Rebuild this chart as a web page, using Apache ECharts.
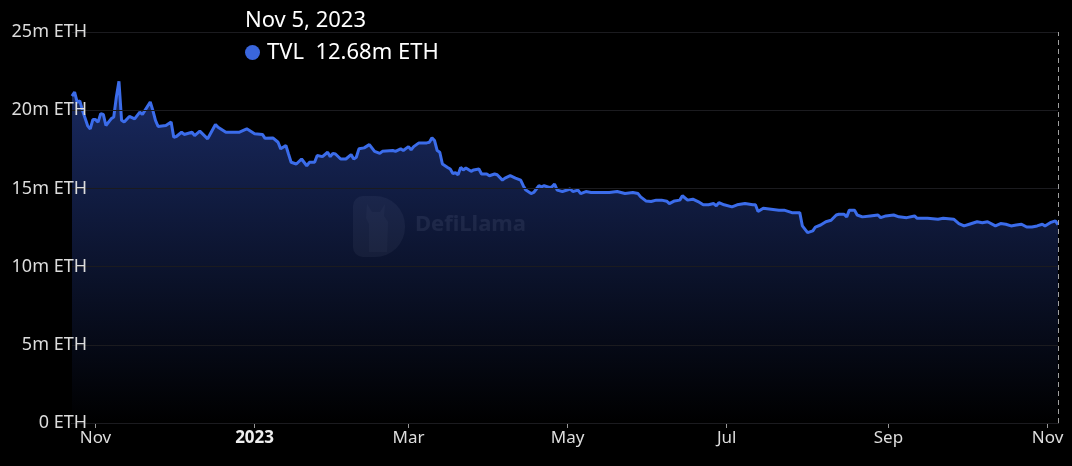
<!DOCTYPE html>
<html>
<head>
<meta charset="utf-8">
<script src="https://cdn.jsdelivr.net/npm/echarts@6/dist/echarts.min.js"></script>
<style>
  html, body { margin: 0; padding: 0; background: #000; }
  #chart { width: 1072px; height: 466px; }
</style>
</head>
<body>
<div id="chart"></div>
<script>
// TVL in millions of ETH
var dates = [
  '2022-10-23','2022-10-24','2022-10-25','2022-10-26','2022-10-27','2022-10-29','2022-10-30','2022-10-31',
  '2022-11-01','2022-11-02','2022-11-03','2022-11-04','2022-11-05','2022-11-07','2022-11-08','2022-11-09',
  '2022-11-10','2022-11-11','2022-11-12','2022-11-14','2022-11-16','2022-11-18','2022-11-19','2022-11-22',
  '2022-11-23','2022-11-24','2022-11-25','2022-11-28','2022-11-30',
  '2022-12-01','2022-12-02','2022-12-04','2022-12-05','2022-12-08','2022-12-09','2022-12-11','2022-12-14',
  '2022-12-17','2022-12-18','2022-12-21','2022-12-26','2022-12-29',
  '2023-01-01','2023-01-04','2023-01-05','2023-01-08','2023-01-10','2023-01-11','2023-01-13','2023-01-14',
  '2023-01-15','2023-01-17','2023-01-19','2023-01-21','2023-01-22','2023-01-24','2023-01-25','2023-01-27',
  '2023-01-29','2023-01-30','2023-01-31',
  '2023-02-01','2023-02-03','2023-02-05','2023-02-07','2023-02-08','2023-02-09','2023-02-10','2023-02-12',
  '2023-02-14','2023-02-16','2023-02-18','2023-02-19','2023-02-23','2023-02-24','2023-02-26','2023-02-27',
  '2023-03-01','2023-03-02','2023-03-03','2023-03-05','2023-03-08','2023-03-09','2023-03-10','2023-03-11',
  '2023-03-12','2023-03-13','2023-03-14','2023-03-16','2023-03-17','2023-03-18','2023-03-19','2023-03-20',
  '2023-03-21','2023-03-22','2023-03-23','2023-03-25','2023-03-26','2023-03-28','2023-03-29','2023-03-31',
  '2023-04-01','2023-04-03','2023-04-04','2023-04-06','2023-04-07','2023-04-09','2023-04-11','2023-04-13',
  '2023-04-14','2023-04-15','2023-04-17','2023-04-18','2023-04-20','2023-04-21','2023-04-22','2023-04-24',
  '2023-04-25','2023-04-26','2023-04-27','2023-04-29',
  '2023-05-02','2023-05-03','2023-05-05','2023-05-06','2023-05-08','2023-05-10','2023-05-13','2023-05-17',
  '2023-05-20','2023-05-23','2023-05-26','2023-05-28','2023-05-29','2023-05-31',
  '2023-06-02','2023-06-04','2023-06-06','2023-06-08','2023-06-09','2023-06-11','2023-06-13','2023-06-14',
  '2023-06-16','2023-06-18','2023-06-20','2023-06-22','2023-06-24','2023-06-26','2023-06-27','2023-06-28',
  '2023-06-30',
  '2023-07-03','2023-07-05','2023-07-08','2023-07-11','2023-07-12','2023-07-13','2023-07-15','2023-07-18',
  '2023-07-21','2023-07-23','2023-07-26','2023-07-29','2023-07-30',
  '2023-08-01','2023-08-03','2023-08-04','2023-08-06','2023-08-08','2023-08-10','2023-08-12','2023-08-13',
  '2023-08-15','2023-08-16','2023-08-17','2023-08-19','2023-08-20','2023-08-22','2023-08-25','2023-08-28',
  '2023-08-29','2023-08-31',
  '2023-09-03','2023-09-05','2023-09-08','2023-09-11','2023-09-12','2023-09-16','2023-09-20','2023-09-22',
  '2023-09-26','2023-09-28','2023-09-30',
  '2023-10-02','2023-10-05','2023-10-07','2023-10-09','2023-10-12','2023-10-14','2023-10-16','2023-10-18',
  '2023-10-20','2023-10-22','2023-10-24','2023-10-26','2023-10-28','2023-10-30','2023-10-31',
  '2023-11-02','2023-11-04','2023-11-05'
];
var tvl = [
  20.9, 21.16, 20.5, 20.6, 20.0, 19.0, 18.8, 19.4,
  19.4, 19.24, 19.78, 19.73, 19.02, 19.45, 19.56, 20.84,
  21.85, 19.35, 19.24, 19.6, 19.45, 19.88, 19.73, 20.52,
  19.99, 19.35, 18.96, 19.02, 19.24,
  18.27, 18.32, 18.59, 18.45, 18.59, 18.38, 18.66, 18.17,
  19.09, 18.91, 18.59, 18.59, 18.81,
  18.5, 18.45, 18.2, 18.23, 17.95, 17.53, 17.74, 17.2,
  16.67, 16.56, 16.88, 16.45, 16.67, 16.67, 17.1, 17.03,
  17.31, 17.03, 17.24,
  17.2, 16.88, 16.88, 17.16, 16.88, 16.99, 17.53, 17.59,
  17.8, 17.37, 17.24, 17.37, 17.42, 17.37, 17.53, 17.42,
  17.67, 17.46, 17.67, 17.91, 17.91, 17.95, 18.23, 18.06,
  17.42, 17.31, 16.56, 16.34, 16.24, 15.95, 16.0, 15.87,
  16.34, 16.18, 16.3, 16.09, 16.18, 16.24, 15.92, 15.92,
  15.81, 15.92, 15.87, 15.53, 15.66, 15.81, 15.66, 15.53,
  15.17, 14.89, 14.67, 14.74, 15.17, 15.1, 15.17, 15.06,
  15.1, 15.28, 14.89, 14.8,
  14.96, 14.8, 14.89, 14.67, 14.8, 14.74, 14.74, 14.74,
  14.8, 14.67, 14.74, 14.67, 14.46, 14.2,
  14.16, 14.25, 14.25, 14.18, 14.03, 14.2, 14.25, 14.53,
  14.25, 14.31, 14.16, 13.95, 13.95, 14.03, 13.88, 14.09,
  13.95,
  13.82, 13.95, 14.03, 13.95, 13.95, 13.52, 13.73, 13.67,
  13.61, 13.61, 13.45, 13.45, 12.6,
  12.17, 12.28, 12.53, 12.66, 12.87, 12.96, 13.3, 13.35,
  13.35, 13.18, 13.61, 13.61, 13.3, 13.18, 13.24, 13.3,
  13.13, 13.24,
  13.3, 13.18, 13.13, 13.24, 13.09, 13.09, 13.03, 13.09,
  13.03, 12.75, 12.6,
  12.71, 12.87, 12.81, 12.87, 12.6, 12.75, 12.71, 12.6,
  12.66, 12.71, 12.53, 12.53, 12.6, 12.71, 12.6,
  12.81, 12.92, 12.68
];
var yTicks = [0, 5, 10, 15, 20, 25];
var monthNames = ['Jan','Feb','Mar','Apr','May','Jun','Jul','Aug','Sep','Oct','Nov','Dec'];

var chart = echarts.init(document.getElementById('chart'));
var seriesData = dates.map(function (d, i) { return [d, tvl[i]]; });
var font = '"Noto Sans", "Open Sans", sans-serif';
var cssFont = font.replace(/"/g, "'");

var option = {
  backgroundColor: '#000',
  animation: false,
  textStyle: { fontFamily: font },
  grid: { left: 72, right: 14, top: 32, bottom: 43 },
  tooltip: {
    trigger: 'axis',
    alwaysShowContent: true,
    triggerOn: 'none',
    transitionDuration: 0,
    backgroundColor: 'transparent',
    borderWidth: 0,
    padding: 0,
    extraCssText: 'box-shadow:none;',
    position: [245, 2],
    axisPointer: {
      type: 'line',
      lineStyle: { color: '#a0a0a0', type: [5, 4], width: 1 }
    },
    formatter: function (params) {
      var p = params[0];
      var t = new Date(p.value[0]);
      var day = monthNames[t.getMonth()] + ' ' + t.getDate() + ', ' + t.getFullYear();
      var base = 'font-family:' + cssFont + ';color:#fff;font-size:22px;line-height:32px;white-space:nowrap;';
      return '<div style="' + base + '">' + day + '</div>' +
        '<div style="' + base + '">' +
        '<span style="display:inline-block;width:15px;height:15px;border-radius:50%;background:#3a66dd;margin-right:7px;vertical-align:-1px;"></span>' +
        'TVL&nbsp;&nbsp;' + p.value[1].toFixed(2) + 'm ETH</div>';
    }
  },
  xAxis: {
    type: 'time',
    splitNumber: 5,
    axisLine: { lineStyle: { color: '#666' } },
    axisTick: { show: true, length: 5, lineStyle: { color: '#999' } },
    splitLine: { show: false },
    axisLabel: {
      color: '#ddd',
      fontSize: 17,
      margin: 7,
      formatter: { year: '{bold|{yyyy}}', month: '{MMM}', day: '{MMM}' },
      rich: { bold: { fontWeight: 'bold', color: '#eee', fontSize: 17 } }
    }
  },
  yAxis: {
    type: 'value',
    z: 5,
    min: yTicks[0],
    max: yTicks[yTicks.length - 1],
    interval: 5,
    axisLine: { show: false },
    axisTick: { show: false },
    splitLine: { lineStyle: { color: '#1b1b1f', width: 1 } },
    axisLabel: {
      color: '#dcdcdc',
      fontSize: 18,
      margin: -15,
      formatter: function (v) { return v === 0 ? '0 ETH' : v + 'm ETH'; }
    }
  },
  graphic: [
    {
      type: 'group',
      left: 353,
      top: 196,
      silent: true,
      children: [
        {
          type: 'rect',
          shape: { x: 0, y: 0, width: 52, height: 61, r: [10, 30, 30, 10] },
          style: { fill: 'rgba(255,255,255,0.13)' }
        },
        {
          // llama silhouette inside the logo
          type: 'polygon',
          shape: { points: [[14, 8], [19, 16], [27, 16], [32, 8], [31, 20], [35, 26], [34, 56], [16, 56], [16, 28], [13, 22]] },
          style: { fill: 'rgba(255,255,255,0.08)' }
        },
        {
          type: 'text',
          left: 62,
          top: 18,
          style: {
            text: 'DefiLlama',
            fill: 'rgba(255,255,255,0.2)',
            font: 'bold 22px ' + font
          }
        }
      ]
    }
  ],
  series: [
    {
      name: 'TVL',
      type: 'line',
      data: seriesData,
      symbol: 'none',
      lineStyle: { color: '#3b6cea', width: 3 },
      itemStyle: { color: '#3a66dd' },
      emphasis: { disabled: true },
      areaStyle: {
        color: new echarts.graphic.LinearGradient(0, 0, 0, 1, [
          { offset: 0, color: '#243c8c' },
          { offset: 1, color: '#000000' }
        ])
      }
    }
  ]
};

chart.setOption(option);
chart.dispatchAction({ type: 'showTip', seriesIndex: 0, dataIndex: seriesData.length - 1 });
</script>
</body>
</html>
